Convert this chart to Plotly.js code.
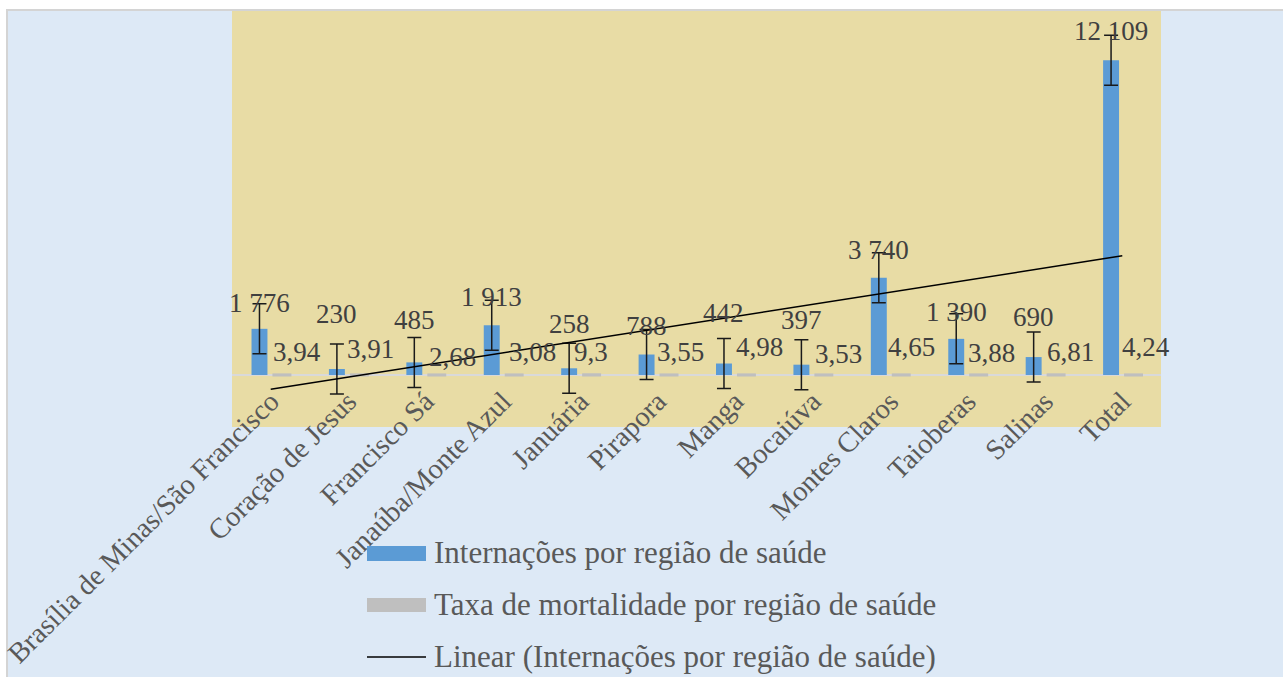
<!DOCTYPE html>
<html>
<head>
<meta charset="utf-8">
<script src="https://cdn.plot.ly/plotly-3.0.1.min.js"></script>
<style>
  html, body { margin: 0; padding: 0; background: #ffffff; }
  #chart { width: 1283px; height: 677px; }
</style>
</head>
<body>
<div id="chart"></div>
<script>
// ---- data ----
const categorias = ['Brasília de Minas/São Francisco', 'Coração de Jesus', 'Francisco Sá',
  'Janaúba/Monte Azul', 'Januária', 'Pirapora', 'Manga', 'Bocaiúva', 'Montes Claros',
  'Taioberas', 'Salinas', 'Total'];
const internacoes = [1776, 230, 485, 1913, 258, 788, 442, 397, 3740, 1390, 690, 12109];
const mortalidade = [3.94, 3.91, 2.68, 3.08, 9.3, 3.55, 4.98, 3.53, 4.65, 3.88, 6.81, 4.24];
const erroPadrao = 962;   // constant (standard error) bar size

const nomeInternacoes = 'Internações por região de saúde';
const nomeMortalidade = 'Taxa de mortalidade por região de saúde';
const nomeTendencia = 'Linear (Internações por região de saúde)';

// ---- label placement (px), kept apart from the data ----
const elevRotuloInternacoes = [26, 55, 42, 28, 44, 29, 51, 45, 28, 27, 40, 29];
const dxRotuloTaxa = [26.5, 22, 26.5, 30, 11, 23, 24, 26, 21, 24.5, 26, 23.5];
const elevRotuloTaxa = [22.6, 26, 18.3, 22.6, 22.6, 22.6, 27.6, 21, 27.6, 21.6, 22.6, 27.6];

// ---- geometry ----
const W = 1283, H = 677;
const M = { l: 232, r: 122, t: 11, b: 250 };
const plotW = W - M.l - M.r, plotH = H - M.t - M.b;
const px2x = p => (p - M.l) / plotW;
const py2y = p => (H - M.b - p) / plotH;
const bargap = 0.42, bargroupgap = 0.29;
const pxPorCategoria = plotW / categorias.length;
const deslocAzul = -(1 - bargap) / 4 * pxPorCategoria;

const serif = 'Liberation Serif, Times New Roman, serif';

// linear trendline (least squares on the Internações series, as in the spreadsheet)
const n = internacoes.length;
const idx = internacoes.map((_, i) => i + 1);
const mx = idx.reduce((a, b) => a + b, 0) / n;
const my = internacoes.reduce((a, b) => a + b, 0) / n;
let sxy = 0, sxx = 0;
for (let i = 0; i < n; i++) { sxy += (idx[i] - mx) * (internacoes[i] - my); sxx += (idx[i] - mx) ** 2; }
const inclinacao = sxy / sxx;
const intercepto = my - inclinacao * mx;
const tendencia = idx.map(x => intercepto + inclinacao * x);

const fmtMil = v => String(v).replace(/\B(?=(\d{3})+(?!\d))/g, ' ');
const fmtDec = v => String(v).replace('.', ',');

const traces = [
  {
    type: 'bar', name: nomeInternacoes, x: categorias, y: internacoes,
    marker: { color: '#5b9bd5' },
    error_y: { type: 'constant', value: erroPadrao, visible: true, color: '#1a1a1a', thickness: 1.5, width: 7 },
    showlegend: false, hoverinfo: 'x+y'
  },
  {
    type: 'bar', name: nomeMortalidade, x: categorias, y: mortalidade,
    marker: { color: '#bfbfbf', line: { color: '#bfbfbf', width: 3 } },
    showlegend: false, hoverinfo: 'x+y'
  },
  {
    type: 'scatter', mode: 'lines', name: nomeTendencia, x: categorias, y: tendencia,
    line: { color: '#000000', width: 1.5 }, showlegend: false, hoverinfo: 'skip'
  }
];

const annotations = [];
categorias.forEach((c, i) => {
  annotations.push({
    x: c, y: internacoes[i], xref: 'x', yref: 'y', text: fmtMil(internacoes[i]),
    showarrow: false, xanchor: 'center', yanchor: 'middle',
    xshift: deslocAzul, yshift: elevRotuloInternacoes[i],
    font: { family: serif, size: 27, color: '#404040' }
  });
  annotations.push({
    x: c, y: 0, xref: 'x', yref: 'y', text: fmtDec(mortalidade[i]),
    showarrow: false, xanchor: 'center', yanchor: 'middle',
    xshift: dxRotuloTaxa[i], yshift: elevRotuloTaxa[i],
    font: { family: serif, size: 27, color: '#404040' }
  });
});

// custom legend (wide swatches as in the reference)
const legendRows = [
  { name: nomeInternacoes, kind: 'rect', color: '#5b9bd5', y0: 546, y1: 561, ty: 552 },
  { name: nomeMortalidade, kind: 'rect', color: '#bfbfbf', y0: 598, y1: 612, ty: 604 },
  { name: nomeTendencia, kind: 'line', color: '#000000', y0: 657, y1: 657, ty: 656 }
];

const shapes = [
  { type: 'rect', xref: 'paper', yref: 'paper', layer: 'below',
    x0: px2x(7), x1: px2x(W + 10), y0: py2y(H + 10), y1: py2y(10),
    fillcolor: '#dde9f6', line: { color: '#d4d4d4', width: 2 } },
  { type: 'rect', xref: 'paper', yref: 'paper', layer: 'below',
    x0: 0, x1: 1, y0: 0, y1: 1, fillcolor: '#e8dca5', line: { width: 0 } }
];

legendRows.forEach(r => {
  if (r.kind === 'rect') {
    shapes.push({ type: 'rect', xref: 'paper', yref: 'paper',
      x0: px2x(367), x1: px2x(426), y0: py2y(r.y1), y1: py2y(r.y0),
      fillcolor: r.color, line: { width: 0 } });
  } else {
    shapes.push({ type: 'line', xref: 'paper', yref: 'paper',
      x0: px2x(367), x1: px2x(426), y0: py2y(r.y0), y1: py2y(r.y0),
      line: { color: r.color, width: 1.5 } });
  }
  annotations.push({
    xref: 'paper', yref: 'paper', x: px2x(432), y: py2y(r.ty), text: r.name,
    showarrow: false, xanchor: 'left', yanchor: 'middle',
    font: { family: serif, size: 31, color: '#595959' }
  });
});

const layout = {
  width: W, height: H,
  margin: { l: M.l, r: M.r, t: M.t, b: M.b, pad: 0 },
  paper_bgcolor: '#ffffff', plot_bgcolor: 'rgba(0,0,0,0)',
  barmode: 'group', bargap: bargap, bargroupgap: bargroupgap,
  showlegend: false,
  xaxis: {
    type: 'category', range: [-0.5, categorias.length - 0.5],
    anchor: 'free', position: 2000 / 16000,
    tickmode: 'array', tickvals: categorias, ticktext: categorias,
    tickangle: -45, ticks: '', showline: false, showgrid: false, zeroline: false,
    ticklabelstandoff: 3,
    tickfont: { family: serif, size: 28.5, color: '#595959' },
    layer: 'below traces', fixedrange: true
  },
  yaxis: {
    range: [-2000, 14000], showticklabels: false, showgrid: false, ticks: '',
    zeroline: true, zerolinecolor: '#d9d9d9', zerolinewidth: 2, showline: false,
    fixedrange: true
  },
  shapes: shapes,
  annotations: annotations
};

Plotly.newPlot('chart', traces, layout, { displayModeBar: false, staticPlot: true });
</script>
</body>
</html>
